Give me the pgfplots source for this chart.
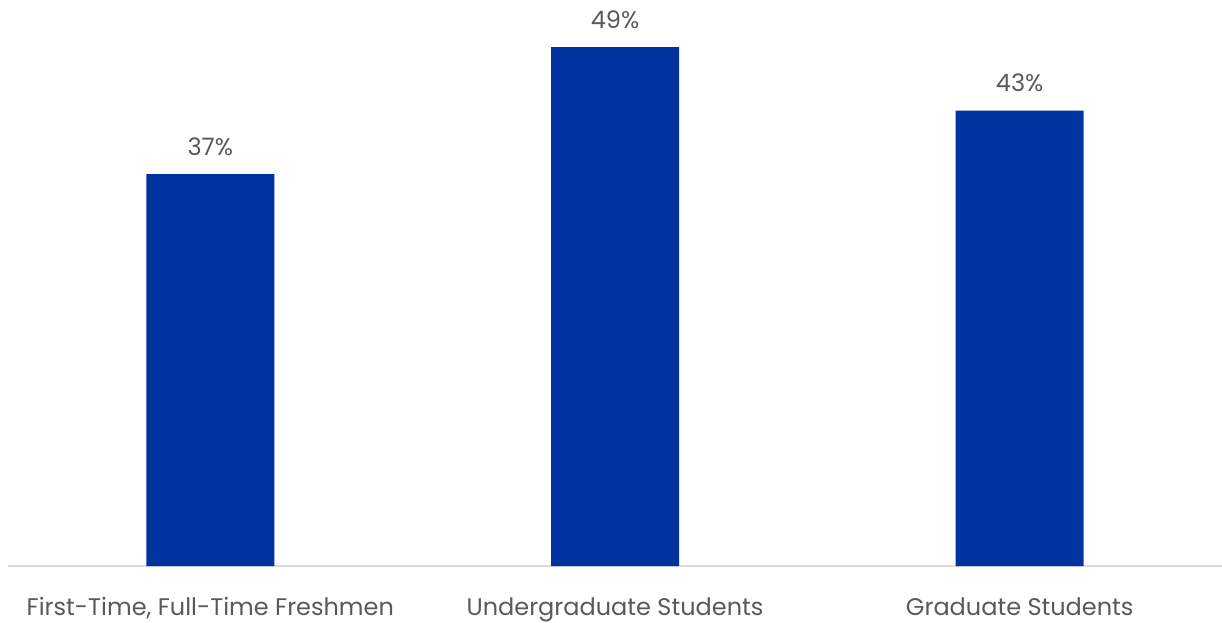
\documentclass[border=0pt]{standalone}
\usepackage{pgfplots}
\pgfplotsset{compat=1.18}
\usepackage{fontspec}
\setmainfont{Poppins}
\definecolor{barblue}{HTML}{0033A0}
\definecolor{txtgray}{HTML}{595959}
\definecolor{axgray}{HTML}{D9D9D9}
\begin{document}
\begin{tikzpicture}
\useasboundingbox (0,0) rectangle (1222pt,622pt);
\begin{axis}[
  at={(8pt,56pt)}, anchor=south west,
  scale only axis,
  width=1214pt, height=566pt,
  xmin=-0.5, xmax=2.5, ymin=0, ymax=53.45,
  axis x line*=bottom, axis y line=none,
  x axis line style={draw=axgray, line width=2pt, -},
  xtick=data, xtick style={draw=none},
  xticklabels={{First-Time, Full-Time Freshmen}, Undergraduate Students, Graduate Students},
  xticklabel style={font=\fontsize{24}{27}\selectfont, text=txtgray, yshift=-28pt},
  ytick=\empty,
  clip=false,
  /pgf/number format/assume math mode=true,
  nodes near coords={\pgfmathprintnumber{\pgfplotspointmeta}\%},
  nodes near coords style={font=\fontsize{24}{27}\selectfont, text=txtgray, yshift=15pt},
]
\addplot[ybar, bar width=128pt, fill=barblue, draw=none] coordinates {(0,37) (1,49) (2,43)};
\end{axis}
\end{tikzpicture}
\end{document}
